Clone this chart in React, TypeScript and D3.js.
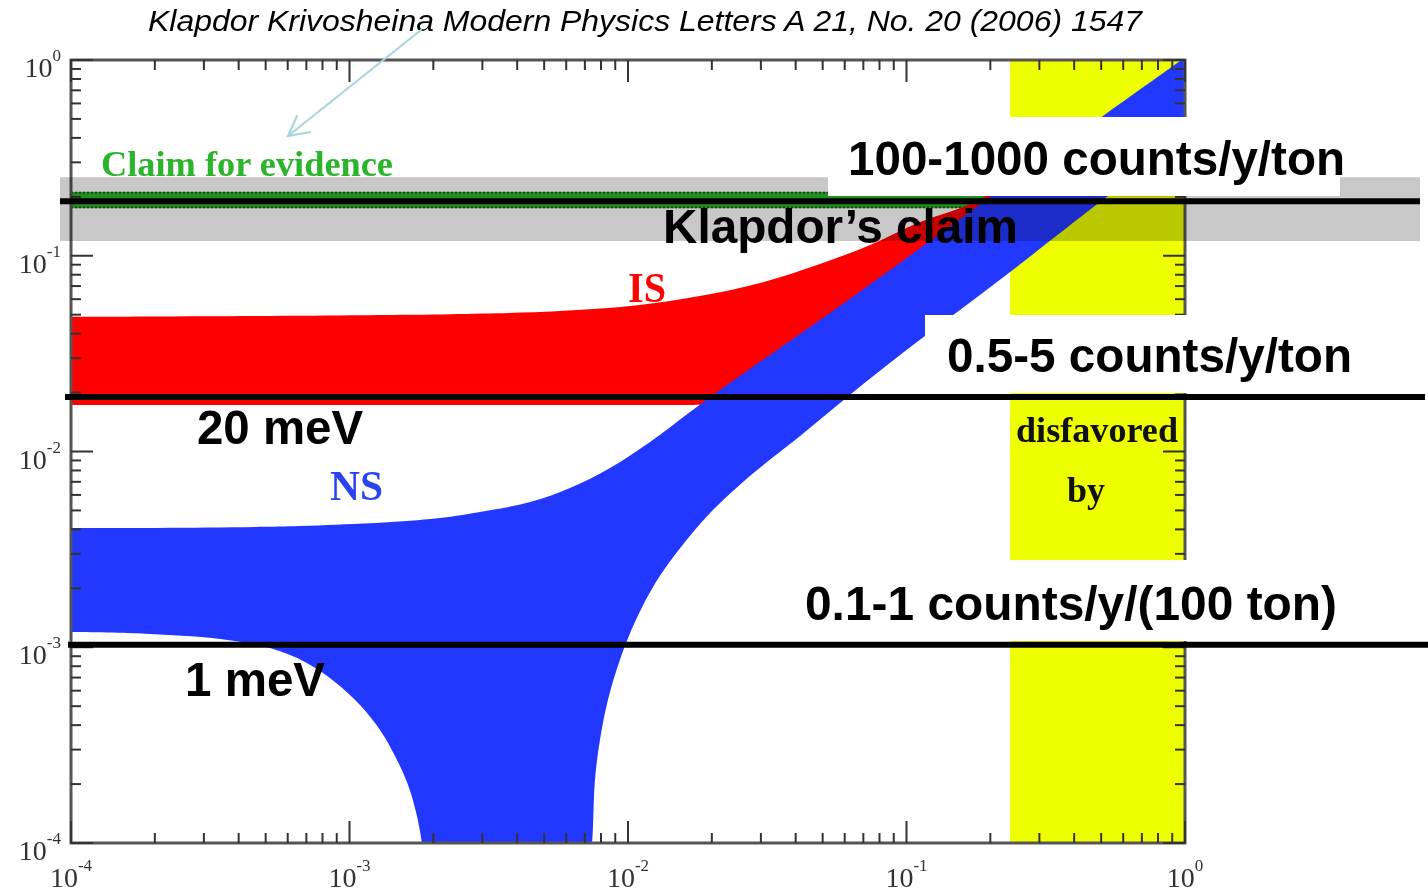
import React from 'react';
import * as d3 from 'd3';

const WIDTH = 1428;
const HEIGHT = 892;
const PLOT = { left: 71, right: 1185, top: 60, bottom: 843 };

const xDomain = [1e-4, 1];
const yDomain = [1e-4, 1];

// Inverted hierarchy band (red): upper and lower edges, m_lightest (eV) -> <m_ee> (eV)
const isUpperM0 = [8e-5, 0.0023, 0.0057, 0.011, 0.0181, 0.0298, 0.0489, 0.074, 0.112, 0.178, 0.3, 0.5, 1.0];
const isUpperMee = [0.0487, 0.0503, 0.0522, 0.056, 0.0622, 0.0726, 0.0908, 0.1135, 0.1486, 0.19, 0.305, 0.5, 0.99];
const isLowerM0 = [8e-5, 0.001, 0.005, 0.01, 0.0167, 0.02, 0.03, 0.05, 0.1, 0.2, 0.5, 1.0];
const isLowerMee = [0.0173, 0.0173, 0.0173, 0.0173, 0.0173, 0.0175, 0.019, 0.025, 0.045, 0.085, 0.22, 0.45];

// Normal hierarchy band (blue)
const nsUpperM0 = [8e-5, 6.6e-4, 1.95e-3, 2.94e-3, 4.45e-3, 6.19e-3, 8.62e-3, 0.012, 0.0167, 0.0232, 0.0351, 0.0531, 0.1, 0.178, 0.5, 1.0];
const nsUpperMee = [0.00406, 0.00416, 0.00452, 0.00491, 0.00552, 0.00651, 0.00823, 0.01118, 0.01591, 0.02238, 0.03379, 0.05097, 0.0974, 0.1774, 0.51, 1.03];
const nsLowerLeftM0 = [8e-5, 1.92e-4, 3.43e-4, 5.18e-4, 6.92e-4, 8.87e-4, 1.091e-3, 1.287e-3, 1.469e-3, 1.623e-3, 1.733e-3, 1.82e-3, 1.867e-3];
const nsLowerLeftMee = [0.0012, 0.001169, 0.001102, 9.91e-4, 8.41e-4, 6.65e-4, 5.07e-4, 3.78e-4, 2.72e-4, 1.98e-4, 1.44e-4, 1.0e-4, 7.28e-5];
const nsLowerRightM0 = [7.2e-3, 7.43e-3, 7.61e-3, 7.93e-3, 8.47e-3, 9.35e-3, 0.01068, 0.0126, 0.0154, 0.0197, 0.0274, 0.0415, 0.0627, 0.1, 0.1556, 0.2355, 0.356, 0.525, 1.0];
const nsLowerRightMee = [7e-5, 1e-4, 2.1e-4, 3.36e-4, 5.38e-4, 8.61e-4, 1.38e-3, 2.154e-3, 3.21e-3, 4.85e-3, 7.49e-3, 0.012, 0.0195, 0.033, 0.0528, 0.0826, 0.1305, 0.2, 0.381];

// Claim for evidence band, cosmology-disfavored region, overlays
const claimBand = [0.175, 0.212];
const cosmoRegion = [0.2355, 1.0];
const klapdorGrayBand = [0.119, 0.252];
const levelLines = [0.19, 0.019, 0.00103];

const overlayLabels = [
  { text: '100-1000 counts/y/ton', x: 848, y: 175, len: 497 },
  { text: 'Klapdor\u2019s claim', x: 663, y: 243, len: 355 },
  { text: '0.5-5 counts/y/ton', x: 947, y: 372, len: 405 },
  { text: '20 meV', x: 197, y: 444, len: 166 },
  { text: '0.1-1 counts/y/(100 ton)', x: 805, y: 620, len: 532 },
  { text: '1 meV', x: 185, y: 696, len: 140 },
];
const whiteBoxes = [
  { x0: 828, x1: 1340, y0: 117, y1: 196 },
  { x0: 925, x1: 1428, y0: 315, y1: 393 },
  { x0: 795, x1: 1428, y0: 560, y1: 641 },
];

const SERIF = "'Liberation Serif', 'DejaVu Serif', serif";
const SANS = "'Liberation Sans', Arial, sans-serif";

export default function App() {
  const x = d3.scaleLog().domain(xDomain).range([PLOT.left, PLOT.right]);
  const y = d3.scaleLog().domain(yDomain).range([PLOT.bottom, PLOT.top]);

  const segPath = (xs: number[], ys: number[]) => {
    const line = d3
      .line<number>()
      .x((i) => x(xs[i]))
      .y((i) => y(ys[i]))
      .curve(d3.curveCatmullRom.alpha(0.5));
    return line(d3.range(xs.length)) as string;
  };
  const rev = (a: number[]) => [...a].reverse();
  const joinPaths = (...paths: string[]) =>
    paths.map((p, i) => (i === 0 ? p : 'L' + p.slice(1))).join('') + 'Z';

  const isPath = joinPaths(segPath(isUpperM0, isUpperMee), segPath(rev(isLowerM0), rev(isLowerMee)));
  const nsPath = joinPaths(
    segPath(nsUpperM0, nsUpperMee),
    segPath(rev(nsLowerRightM0), rev(nsLowerRightMee)),
    segPath(rev(nsLowerLeftM0), rev(nsLowerLeftMee))
  );

  const xTicks = x.ticks();
  const yTicks = y.ticks();
  const isMajor = (v: number) => Math.abs(Math.log10(v) - Math.round(Math.log10(v))) < 1e-9;
  const majorLen = 22;
  const minorLen = 10;
  const tickColor = '#333';

  return (
    <svg
      width={WIDTH}
      height={HEIGHT}
      style={{ position: 'absolute', left: 0, top: 0, background: '#fff' }}
      xmlns="http://www.w3.org/2000/svg"
    >
      <defs>
        <clipPath id="plotClip">
          <rect x={PLOT.left} y={PLOT.top} width={PLOT.right - PLOT.left} height={PLOT.bottom - PLOT.top} />
        </clipPath>
      </defs>
      <rect x={0} y={0} width={WIDTH} height={HEIGHT} fill="#fff" />

      <g clipPath="url(#plotClip)">
        {/* claim for evidence band */}
        <rect
          x={PLOT.left}
          width={PLOT.right - PLOT.left}
          y={y(claimBand[1])}
          height={y(claimBand[0]) - y(claimBand[1])}
          fill="#2cb52c"
        />
        <line x1={PLOT.left} x2={PLOT.right} y1={y(claimBand[1]) + 1} y2={y(claimBand[1]) + 1} stroke="#146614" strokeWidth={2} strokeDasharray="2,2" />
        <line x1={PLOT.left} x2={PLOT.right} y1={y(claimBand[0]) - 1} y2={y(claimBand[0]) - 1} stroke="#146614" strokeWidth={2} strokeDasharray="2,2" />
        {/* cosmology */}
        <rect
          x={x(cosmoRegion[0])}
          width={x(cosmoRegion[1]) - x(cosmoRegion[0])}
          y={PLOT.top}
          height={PLOT.bottom - PLOT.top}
          fill="#eeff00"
        />
        <path d={isPath} fill="#ff0000" />
        <path d={nsPath} fill="#2238ff" />
      </g>

      {/* axes frame */}
      <rect
        x={PLOT.left}
        y={PLOT.top}
        width={PLOT.right - PLOT.left}
        height={PLOT.bottom - PLOT.top}
        fill="none"
        stroke="#555"
        strokeWidth={3}
      />
      {xTicks.map((v, i) => {
        const len = isMajor(v) ? majorLen : minorLen;
        const px = x(v);
        return (
          <g key={'xt' + i}>
            <line x1={px} x2={px} y1={PLOT.bottom} y2={PLOT.bottom - len} stroke={tickColor} strokeWidth={2} />
            <line x1={px} x2={px} y1={PLOT.top} y2={PLOT.top + len} stroke={tickColor} strokeWidth={2} />
          </g>
        );
      })}
      {yTicks.map((v, i) => {
        const len = isMajor(v) ? majorLen : minorLen;
        const py = y(v);
        return (
          <g key={'yt' + i}>
            <line x1={PLOT.left} x2={PLOT.left + len} y1={py} y2={py} stroke={tickColor} strokeWidth={2} />
            <line x1={PLOT.right} x2={PLOT.right - len} y1={py} y2={py} stroke={tickColor} strokeWidth={2} />
          </g>
        );
      })}
      {/* tick labels */}
      {xTicks.filter(isMajor).map((v, i) => (
        <text key={'xl' + i} x={x(v)} y={887} textAnchor="middle" fontFamily={SERIF} fontSize={28} fill="#333">
          10
          <tspan dy={-16} fontSize={17}>
            {String(Math.round(Math.log10(v)))}
          </tspan>
        </text>
      ))}
      {yTicks.filter(isMajor).map((v, i) => (
        <text key={'yl' + i} x={61} y={y(v) + 17} textAnchor="end" fontFamily={SERIF} fontSize={28} fill="#333">
          10
          <tspan dy={-16} fontSize={17}>
            {String(Math.round(Math.log10(v)))}
          </tspan>
        </text>
      ))}

      {/* in-plot labels */}
      <text x={101} y={176} fontFamily={SERIF} fontWeight="bold" fontSize={36} fill="#2cb52c" textLength={292} lengthAdjust="spacingAndGlyphs">
        Claim for evidence
      </text>
      <text x={628} y={302} fontFamily={SERIF} fontWeight="bold" fontSize={42} fill="#ff0000" textLength={38} lengthAdjust="spacingAndGlyphs">
        IS
      </text>
      <text x={330} y={500} fontFamily={SERIF} fontWeight="bold" fontSize={42} fill="#2a44f0" textLength={53} lengthAdjust="spacingAndGlyphs">
        NS
      </text>
      <text x={1097} y={442} textAnchor="middle" fontFamily={SERIF} fontWeight="bold" fontSize={36} fill="#111" textLength={162} lengthAdjust="spacingAndGlyphs">
        disfavored
      </text>
      <text x={1086} y={502} textAnchor="middle" fontFamily={SERIF} fontWeight="bold" fontSize={36} fill="#111">
        by
      </text>

      {/* Klapdor gray band */}
      <rect
        x={60}
        width={1360}
        y={y(klapdorGrayBand[1])}
        height={y(klapdorGrayBand[0]) - y(klapdorGrayBand[1])}
        fill="#c8c8c8"
        style={{ mixBlendMode: 'multiply' }}
      />

      {/* level lines */}
      <line x1={60} x2={1420} y1={y(levelLines[0])} y2={y(levelLines[0])} stroke="#000" strokeWidth={6} />
      <line x1={65} x2={1425} y1={y(levelLines[1])} y2={y(levelLines[1])} stroke="#000" strokeWidth={6} />
      <line x1={68} x2={1428} y1={y(levelLines[2])} y2={y(levelLines[2])} stroke="#000" strokeWidth={6} />

      {whiteBoxes.map((b, i) => (
        <rect key={'wb' + i} x={b.x0} y={b.y0} width={b.x1 - b.x0} height={b.y1 - b.y0} fill="#fff" />
      ))}

      {overlayLabels.map((l, i) => (
        <text
          key={'ol' + i}
          x={l.x}
          y={l.y}
          fontFamily={SANS}
          fontWeight="bold"
          fontSize={48}
          fill="#000"
          textLength={l.len}
          lengthAdjust="spacingAndGlyphs"
        >
          {l.text}
        </text>
      ))}

      {/* citation + arrow */}
      <text x={148} y={31} fontFamily={SANS} fontStyle="italic" fontSize={29} fill="#000" textLength={994} lengthAdjust="spacingAndGlyphs">
        Klapdor Krivosheina Modern Physics Letters A 21, No. 20 (2006) 1547
      </text>
      <g stroke="#a9d6dc" strokeWidth={2.2} fill="none" strokeLinecap="round">
        <line x1={421} y1={30} x2={288} y2={136} />
        <polyline points="297,116 288,136 310,132" />
      </g>
    </svg>
  );
}
